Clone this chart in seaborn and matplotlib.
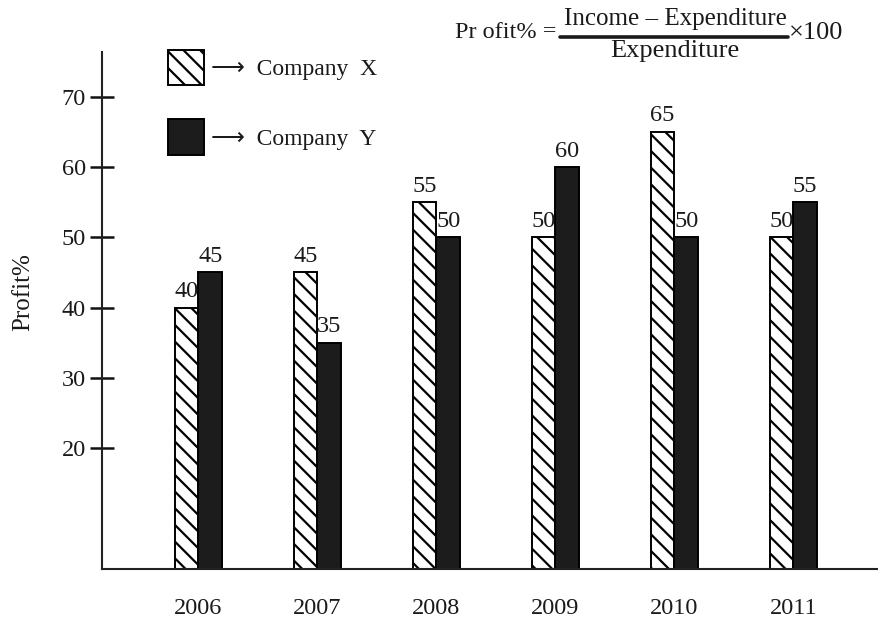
import matplotlib
matplotlib.use("Agg")
import matplotlib.pyplot as plt
from matplotlib.lines import Line2D
import seaborn as sns
import pandas as pd

years = ["2006", "2007", "2008", "2009", "2010", "2011"]
company_x = [40, 45, 55, 50, 65, 50]
company_y = [45, 35, 50, 60, 50, 55]
series_names = ["Company X", "Company Y"]
legend_labels = ["\u27f6  Company  X", "\u27f6  Company  Y"]
y_ticks = [20, 30, 40, 50, 60, 70]

df = pd.DataFrame({
    "Year": years * 2,
    "Profit": company_x + company_y,
    "Company": [series_names[0]] * len(years) + [series_names[1]] * len(years),
})

sns.set_theme(style="white")
plt.rcParams["font.family"] = ["Liberation Serif", "DejaVu Sans"]
plt.rcParams["hatch.linewidth"] = 1.6
plt.rcParams["hatch.color"] = "black"

TXT = "#1a1a1a"
FS = 17.5
W, H = 879, 620
fig = plt.figure(figsize=(W / 100, H / 100), dpi=100)
ax = fig.add_axes([102 / W, 51 / H, 777 / W, 517 / H])

sns.barplot(data=df, x="Year", y="Profit", hue="Company",
            palette={"Company X": "white", "Company Y": "#1c1c1c"},
            saturation=1, width=0.4, edgecolor="black", linewidth=1.4,
            ax=ax)

for p in ax.containers[0]:
    p.set_hatch("\\\\")

for cont in ax.containers:
    ax.bar_label(cont, labels=[f"{v:.0f}" for v in cont.datavalues],
                 padding=4, fontsize=FS, color=TXT)

ax.set_xlim(-0.81, 5.72)
ax.set_ylim(2.76, 76.4)
ax.set_yticks(y_ticks)
ax.set_xlabel("")
ax.set_ylabel("Profit%", fontsize=18, color=TXT)
ax.yaxis.set_label_coords(-0.0875, 0.536)

sns.despine(ax=ax)
for s in ("left", "bottom"):
    ax.spines[s].set_linewidth(1.5)
    ax.spines[s].set_color("#222222")

ax.tick_params(axis="y", left=True, direction="inout", length=17, width=1.8,
               color="#111111", labelsize=FS, labelcolor=TXT, pad=3)
ax.tick_params(axis="x", bottom=False, length=0, labelsize=FS,
               labelcolor=TXT, pad=21)

handles, _ = ax.get_legend_handles_labels()
handles[0].set_hatch("\\\\")
ax.legend(handles, legend_labels, loc="upper left",
          bbox_to_anchor=(0.085, 1.004), frameon=False, borderpad=0,
          borderaxespad=0, handlelength=1.52, handleheight=1.94,
          labelspacing=1.44, handletextpad=0.28, fontsize=17,
          labelcolor=TXT)

# Formula at top
def fx(px):
    return px / W

def fy(py):
    return 1 - py / H

fig.text(fx(455), fy(33), "Pr ofit% =", fontsize=17.5, color=TXT,
         ha="left", va="center")
fig.text(fx(675), fy(19), "Income \u2013 Expenditure", fontsize=18,
         color=TXT, ha="center", va="center")
fig.text(fx(675), fy(51), "Expenditure", fontsize=19, color=TXT,
         ha="center", va="center")
fig.text(fx(789), fy(33), "\u00d7100", fontsize=19, color=TXT,
         ha="left", va="center")
fig.add_artist(Line2D([fx(560), fx(788)], [fy(37), fy(37)],
                      transform=fig.transFigure, color=TXT, lw=2.6))

fig.savefig("out.png", dpi=100)
